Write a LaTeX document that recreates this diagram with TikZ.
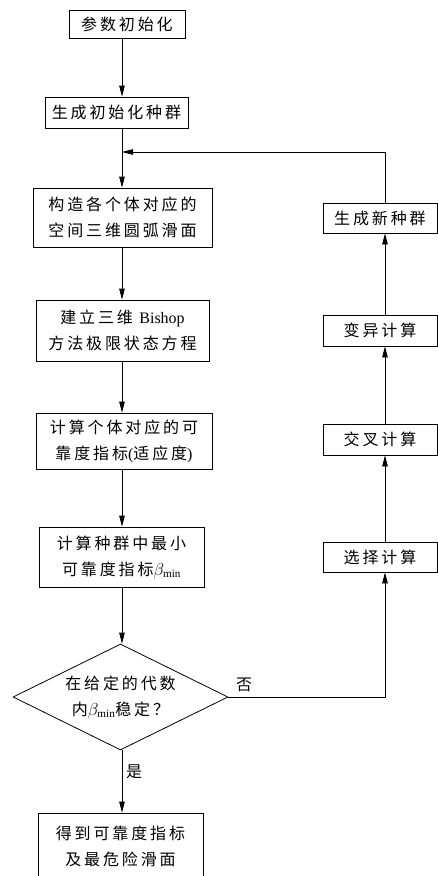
\documentclass[tikz,border=0pt]{standalone}
\usepackage{fontspec}
\setmainfont{Noto Sans CJK SC}[LetterSpace=18]
\setmathrm{Liberation Serif}
\newfontfamily\latin{Liberation Serif}
\usetikzlibrary{arrows.meta,shapes.geometric}
\newcommand{\bmin}{$\beta_{\mathrm{min}}$}
\begin{document}
\begin{tikzpicture}[x=1pt,y=-1pt,
  box/.style={draw,line width=0.8pt,inner sep=0pt,align=center,font=\fontsize{16}{26}\selectfont},
  arr/.style={line width=0.8pt,-{Triangle[length=11pt,width=5.5pt]}},
  lbl/.style={font=\fontsize{16}{26}\selectfont,inner sep=0pt}]
\useasboundingbox (0,0) rectangle (438,876);
\clip (0,0) rectangle (438,876);
\coordinate (ax) at (122,0);
\coordinate (rx) at (385,0);
\node[box,minimum width=116pt,minimum height=28pt] (b1) at (127,24.5) {参数初始化};
\node[box,minimum width=143pt,minimum height=31pt] (b2) at (116.5,112.5) {生成初始化种群};
\node[box,minimum width=179pt,minimum height=59pt] (b3) at (122.5,217.5) {构造各个体对应的\\空间三维圆弧滑面};
\node[box,minimum width=173pt,minimum height=61pt] (b4) at (122.5,330.5) {建立三维 {\latin\addfontfeature{LetterSpace=0}Bishop}\\方法极限状态方程};
\node[box,minimum width=176pt,minimum height=56pt] (b5) at (124,441) {计算个体对应的可\\靠度指标{\latin\addfontfeature{LetterSpace=0}(}适应度{\latin\addfontfeature{LetterSpace=0})}};
\node[box,minimum width=165pt,minimum height=60pt] (b6) at (121.5,557) {计算种群中最小\\可靠度指标\bmin};
\node[draw,diamond,line width=0.8pt,inner sep=0pt,minimum width=215pt,minimum height=106pt] (dia) at (120.5,697) {};
\node[lbl,align=center] (dtxt) at (dia.center) {在给定的代数\\内\bmin 稳定？};
\node[box,minimum width=165pt,minimum height=66pt] (b7) at (120.5,846) {得到可靠度指标\\及最危险滑面};
\node[box,minimum width=114pt,minimum height=30pt] (r1) at (380,218) {生成新种群};
\node[box,minimum width=114pt,minimum height=31pt] (r2) at (380,330.5) {变异计算};
\node[box,minimum width=114pt,minimum height=31pt] (r3) at (380,439.5) {交叉计算};
\node[box,minimum width=114pt,minimum height=30pt] (r4) at (380,557) {选择计算};
\coordinate (fb) at (385,152);
\draw[arr] (b1.south -| ax) -- (b2.north -| ax);
\draw[arr] (b2.south -| ax) -- (b3.north -| ax);
\draw[arr] (b3.south -| ax) -- (b4.north -| ax);
\draw[arr] (b4.south -| ax) -- (b5.north -| ax);
\draw[arr] (b5.south -| ax) -- (b6.north -| ax);
\draw[arr] (b6.south -| ax) -- (dia.north -| ax);
\draw[arr] (dia.south -| ax) -- (b7.north -| ax);
\draw[arr] (dia.east) -- (dia.east -| rx) -- (r4.south -| rx);
\draw[arr] (r4.north -| rx) -- (r3.south -| rx);
\draw[arr] (r3.north -| rx) -- (r2.south -| rx);
\draw[arr] (r2.north -| rx) -- (r1.south -| rx);
\draw[arr] (r1.north -| rx) -- (fb) -- (fb -| ax);
\node[lbl] (no) at (244,685) {否};
\node[lbl] (yes) at (134,772) {是};
\end{tikzpicture}
\end{document}
